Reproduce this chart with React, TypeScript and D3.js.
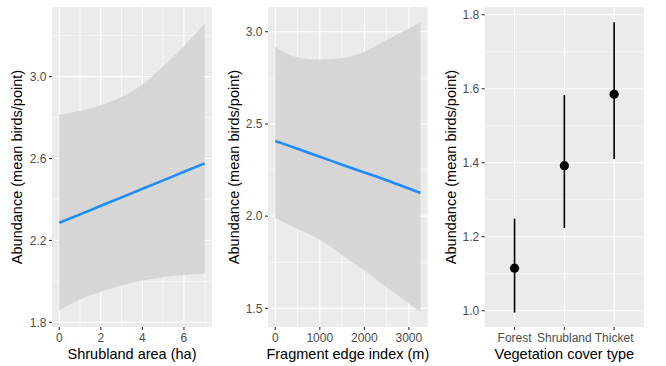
import React from 'react';
import * as d3 from 'd3';

// panel 1: shrubland area
const areaX = [0, 1, 2, 3, 4, 5, 6, 7];
const areaFit = [2.286, 2.327, 2.369, 2.41, 2.452, 2.493, 2.535, 2.576];
const areaUpper = [2.815, 2.832, 2.86, 2.9, 2.962, 3.05, 3.15, 3.26];
const areaLower = [1.857, 1.912, 1.949, 1.98, 2.004, 2.02, 2.031, 2.037];
const areaTicks = [0, 2, 4, 6];
const areaMinor = [1, 3, 5, 7];
const areaYTicks = [1.8, 2.2, 2.6, 3.0];
const areaYMinor = [2.0, 2.4, 2.8, 3.2];

// panel 2: fragment edge index
const edgeX = [0, 500, 1000, 1500, 2000, 2500, 3000, 3260];
const edgeFit = [2.408, 2.365, 2.322, 2.279, 2.237, 2.195, 2.15, 2.126];
const edgeUpper = [2.919, 2.862, 2.85, 2.857, 2.892, 2.955, 3.018, 3.05];
const edgeLower = [1.99, 1.93, 1.872, 1.79, 1.705, 1.615, 1.527, 1.48];
const edgeTicks = [0, 1000, 2000, 3000];
const edgeMinor = [500, 1500, 2500];
const edgeYTicks = [1.5, 2.0, 2.5, 3.0];
const edgeYMinor = [1.75, 2.25, 2.75];

// panel 3: vegetation cover type
const coverTypes = ['Forest', 'Shrubland', 'Thicket'];
const coverMean = [1.115, 1.392, 1.585];
const coverLow = [0.995, 1.224, 1.41];
const coverHigh = [1.249, 1.583, 1.78];
const coverYTicks = [1.0, 1.2, 1.4, 1.6, 1.8];
const coverYMinor = [1.1, 1.3, 1.5, 1.7];

const FONT = '"Liberation Sans", Arial, Helvetica, sans-serif';
const BG = '#EBEBEB';
const TICK_COL = '#4D4D4D';
const YTITLE = 'Abundance (mean birds/point)';

const top = 7;
const bottom = 327;

interface FrameProps {
  left: number;
  right: number;
  y: d3.ScaleLinear<number, number>;
  yTicks: number[];
  yMinor: number[];
  yFmt: (v: number) => string;
  xMajor: { pos: number; label: string }[];
  xMinor: number[];
  titleX: string;
  ytitleX: number;
  children?: React.ReactNode;
}

const Frame: React.FC<FrameProps> = ({ left, right, y, yTicks, yMinor, yFmt, xMajor, xMinor, titleX, ytitleX, children }) => {
  const midY = (top + bottom) / 2;
  return (
    <g>
      <rect x={left} y={top} width={right - left} height={bottom - top} fill={BG} />
      {yMinor.map(v => (
        <line key={'ym' + v} x1={left} x2={right} y1={y(v)} y2={y(v)} stroke="#fff" strokeWidth={0.55} />
      ))}
      {xMinor.map(p => (
        <line key={'xm' + p} x1={p} x2={p} y1={top} y2={bottom} stroke="#fff" strokeWidth={0.55} />
      ))}
      {yTicks.map(v => (
        <line key={'yM' + v} x1={left} x2={right} y1={y(v)} y2={y(v)} stroke="#fff" strokeWidth={1.1} />
      ))}
      {xMajor.map(t => (
        <line key={'xM' + t.label} x1={t.pos} x2={t.pos} y1={top} y2={bottom} stroke="#fff" strokeWidth={1.1} />
      ))}
      {children}
      {yTicks.map(v => (
        <g key={'yt' + v}>
          <line x1={left - 3} x2={left} y1={y(v)} y2={y(v)} stroke="#333" strokeWidth={1.1} />
          <text x={left - 5.5} y={y(v)} dy="0.36em" textAnchor="end" fontSize={12} fill={TICK_COL} fontFamily={FONT}>
            {yFmt(v)}
          </text>
        </g>
      ))}
      {xMajor.map(t => (
        <g key={'xt' + t.label}>
          <line x1={t.pos} x2={t.pos} y1={bottom} y2={bottom + 3} stroke="#333" strokeWidth={1.1} />
          <text x={t.pos} y={bottom + 15} textAnchor="middle" fontSize={12} fill={TICK_COL} fontFamily={FONT}>
            {t.label}
          </text>
        </g>
      ))}
      <text x={(left + right) / 2} y={359} textAnchor="middle" fontSize={14.5} fill="#000" fontFamily={FONT}>
        {titleX}
      </text>
      <text
        transform={`translate(${ytitleX},${midY}) rotate(-90)`}
        textAnchor="middle"
        dy="0.36em"
        fontSize={14.5}
        fill="#000"
        fontFamily={FONT}
      >
        {YTITLE}
      </text>
    </g>
  );
};

const Smooth: React.FC<{
  x: d3.ScaleLinear<number, number>;
  y: d3.ScaleLinear<number, number>;
  xs: number[];
  fit: number[];
  lo: number[];
  hi: number[];
}> = ({ x, y, xs, fit, lo, hi }) => {
  const idx = xs.map((_, i) => i);
  const band = d3
    .area<number>()
    .x(i => x(xs[i]))
    .y0(i => y(lo[i]))
    .y1(i => y(hi[i]))
    .curve(d3.curveMonotoneX);
  const line = d3
    .line<number>()
    .x(i => x(xs[i]))
    .y(i => y(fit[i]))
    .curve(d3.curveMonotoneX);
  return (
    <g>
      <path d={band(idx) || ''} fill="#D6D6D6" />
      <path d={line(idx) || ''} fill="none" stroke="#1E8CFF" strokeWidth={2.6} />
    </g>
  );
};

export default function App() {
  // panel 1
  const p1 = { left: 52, right: 212 };
  const x1 = d3.scaleLinear().domain([-0.35, 7.35]).range([p1.left, p1.right]);
  const y1 = d3.scaleLinear().domain([1.777, 3.34]).range([bottom, top]);

  // panel 2
  const p2 = { left: 268, right: 427.7 };
  const x2 = d3.scaleLinear().domain([-163, 3423]).range([p2.left, p2.right]);
  const y2 = d3.scaleLinear().domain([1.399, 3.134]).range([bottom, top]);

  // panel 3
  const p3 = { left: 484.7, right: 644 };
  const x3 = d3.scalePoint<string>().domain(coverTypes).range([p3.left, p3.right]).padding(0.6);
  const y3 = d3.scaleLinear().domain([0.956, 1.821]).range([bottom, top]);

  return (
    <div style={{ position: 'fixed', left: 0, top: 0 }}>
      <svg width={666} height={366} style={{ display: 'block', background: '#fff' }}>
        <Frame
          left={p1.left}
          right={p1.right}
          y={y1}
          yTicks={areaYTicks}
          yMinor={areaYMinor}
          yFmt={d3.format('.1f')}
          xMajor={areaTicks.map(v => ({ pos: x1(v), label: String(v) }))}
          xMinor={areaMinor.map(v => x1(v))}
          titleX="Shrubland area (ha)"
          ytitleX={17}
        >
          <Smooth x={x1} y={y1} xs={areaX} fit={areaFit} lo={areaLower} hi={areaUpper} />
        </Frame>

        <Frame
          left={p2.left}
          right={p2.right}
          y={y2}
          yTicks={edgeYTicks}
          yMinor={edgeYMinor}
          yFmt={d3.format('.1f')}
          xMajor={edgeTicks.map(v => ({ pos: x2(v), label: String(v) }))}
          xMinor={edgeMinor.map(v => x2(v))}
          titleX="Fragment edge index (m)"
          ytitleX={234}
        >
          <Smooth x={x2} y={y2} xs={edgeX} fit={edgeFit} lo={edgeLower} hi={edgeUpper} />
        </Frame>

        <Frame
          left={p3.left}
          right={p3.right}
          y={y3}
          yTicks={coverYTicks}
          yMinor={coverYMinor}
          yFmt={d3.format('.1f')}
          xMajor={coverTypes.map(c => ({ pos: x3(c) as number, label: c }))}
          xMinor={[]}
          titleX="Vegetation cover type"
          ytitleX={451}
        >
          {coverTypes.map((c, i) => (
            <g key={c}>
              <line
                x1={x3(c)}
                x2={x3(c)}
                y1={y3(coverLow[i])}
                y2={y3(coverHigh[i])}
                stroke="#000"
                strokeWidth={1.6}
              />
              <circle cx={x3(c)} cy={y3(coverMean[i])} r={4.6} fill="#000" />
            </g>
          ))}
        </Frame>
      </svg>
    </div>
  );
}
